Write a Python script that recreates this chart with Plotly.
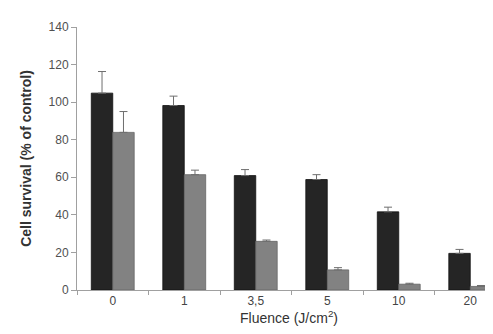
import plotly.graph_objects as go

categories = ["0", "1", "3,5", "5", "10", "20"]
series_a = [104.8, 98.2, 60.9, 58.8, 41.6, 19.5]
series_a_err = [11.5, 5.0, 3.2, 2.6, 2.5, 2.1]
series_b = [83.9, 61.4, 25.9, 10.7, 3.1, 1.9]
series_b_err = [11.1, 2.4, 0.7, 1.2, 0.5, 0.5]
y_ticks = [0, 20, 40, 60, 80, 100, 120, 140]

fig = go.Figure()
fig.add_trace(go.Bar(
    x=categories, y=series_a, name="A",
    marker=dict(color="#252525", line=dict(color="#111111", width=0.8)),
    error_y=dict(type="data", symmetric=False, array=series_a_err,
                 arrayminus=[0] * len(series_a), color="#6e6e6e",
                 thickness=1, width=4),
))
fig.add_trace(go.Bar(
    x=categories, y=series_b, name="B",
    marker=dict(color="#828282", line=dict(color="#666666", width=0.8)),
    error_y=dict(type="data", symmetric=False, array=series_b_err,
                 arrayminus=[0] * len(series_b), color="#6e6e6e",
                 thickness=1, width=4),
))

fig.update_layout(
    width=493, height=334,
    margin=dict(l=69, r=0, t=19, b=52),
    barmode="group", bargap=0.4, bargroupgap=0,
    plot_bgcolor="white", paper_bgcolor="white",
    showlegend=False,
    font=dict(family="Liberation Sans, Arial, sans-serif", color="#444444"),
)
fig.update_xaxes(
    type="category", range=[-0.5, 5.43],
    showline=True, linecolor="#a0a0a0", linewidth=1,
    ticks="outside", tickson="boundaries", ticklen=4, tickcolor="#a0a0a0",
    showgrid=False, tickfont=dict(size=12, color="#444444"),
    title=dict(text="Fluence (J/cm<sup>2</sup>)", font=dict(size=14, color="#333333"), standoff=4),
)
fig.update_yaxes(
    range=[0, 140], tickvals=y_ticks,
    showline=True, linecolor="#a0a0a0", linewidth=1,
    ticks="outside", ticklen=5, tickcolor="#a0a0a0",
    showgrid=False, zeroline=False, tickfont=dict(size=12, color="#505050"),
    title=dict(text="<b>Cell survival (% of control)</b>", font=dict(size=14, color="#333333"), standoff=13),
)

fig.write_html("out.html")
